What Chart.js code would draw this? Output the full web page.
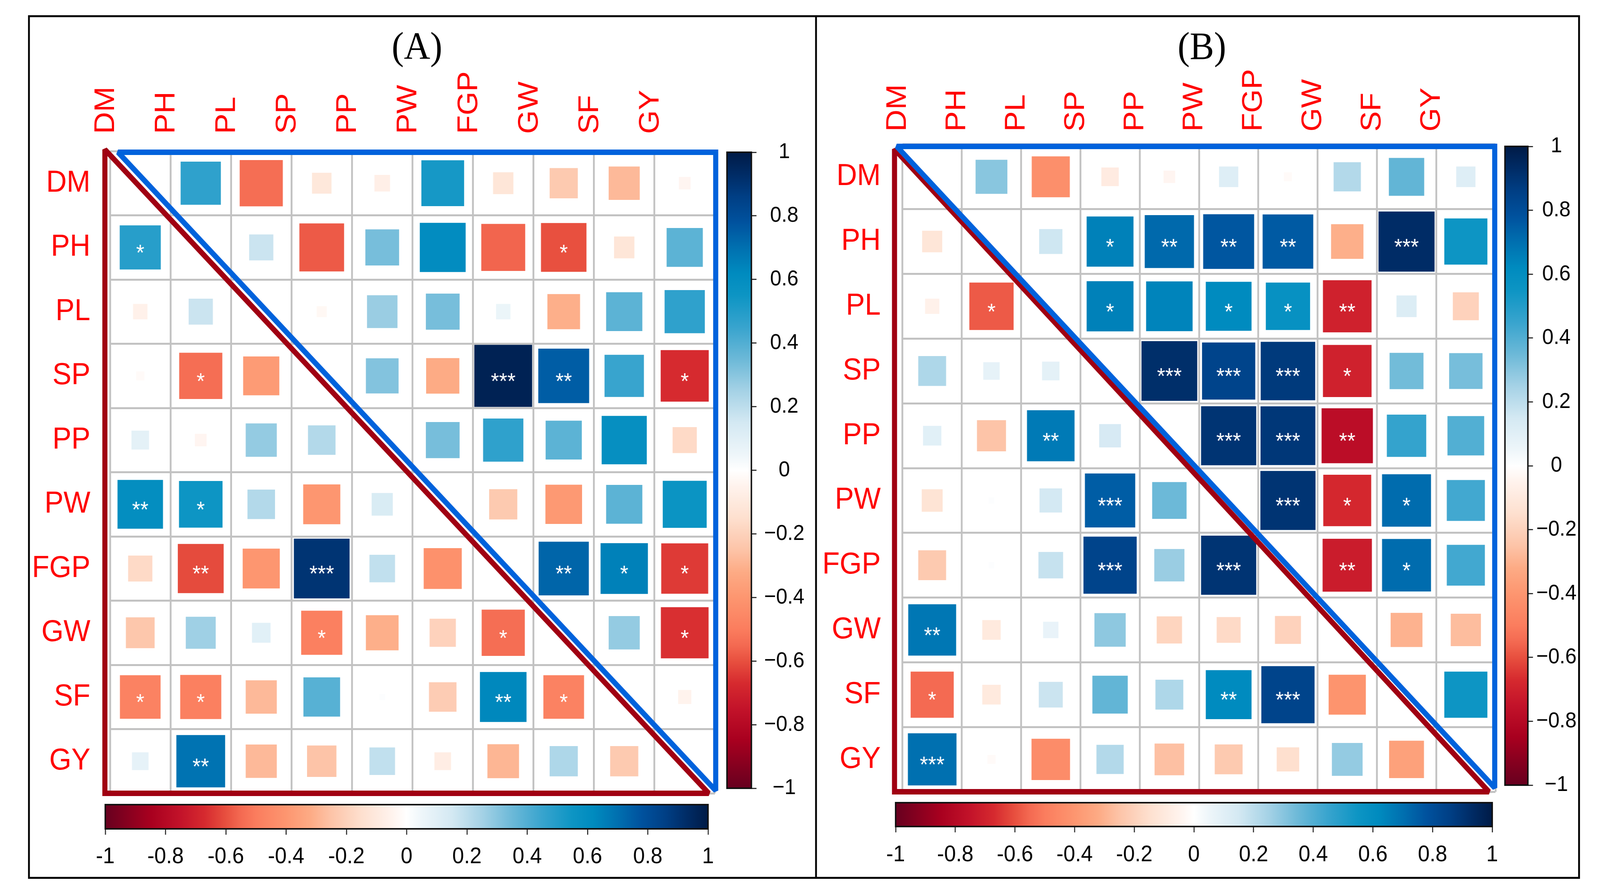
<!DOCTYPE html>
<html>
<head>
<meta charset="utf-8">
<script src="https://cdn.jsdelivr.net/npm/chart.js@4.4.1/dist/chart.umd.min.js"></script>
<style>
html, body { margin: 0; padding: 0; background: #fff; overflow: hidden; width: 100%; height: 100%; }
#stage { width: 4393px; height: 2295px; position: absolute; left: 0; top: 0; transform-origin: 0 0; background: #fff; }
canvas { position: absolute; }
.title { position: absolute; font-family: "Liberation Serif", "Times New Roman", serif; font-size: 100px; line-height: 1; transform: translate(-50%, -50%); color: #000; }
</style>
</head>
<body>
<div id="stage">
<div style="position:absolute;left:77px;top:39px;width:4261px;height:2212px;border:5px solid #000;box-sizing:border-box"></div>
<div style="position:absolute;left:2238px;top:39px;width:5px;height:2212px;background:#000"></div>
<div class="title" style="left:1145px;top:118px">(A)</div>
<div class="title" style="left:3300px;top:118px">(B)</div>
</div>
<script>
// traits, same order on both axes
var traits = ['DM', 'PH', 'PL', 'SP', 'PP', 'PW', 'FGP', 'GW', 'SF', 'GY'];

// panel A : lower and upper triangle hold the two correlation sets
var corrA = [
	[1, 0.47, -0.54, -0.11, -0.07, 0.53, -0.12, -0.23, -0.28, -0.04],
	[0.49, 1, 0.17, -0.58, 0.33, 0.61, -0.56, -0.60, -0.12, 0.38],
	[-0.06, 0.17, 1, -0.03, 0.27, 0.33, 0.06, -0.31, 0.38, 0.47],
	[-0.02, -0.54, -0.38, 1, 0.31, -0.32, 0.97, 0.75, 0.45, -0.67],
	[0.09, -0.04, 0.28, 0.22, 1, 0.33, 0.47, 0.38, 0.59, -0.17],
	[0.60, 0.55, 0.22, -0.40, 0.13, 1, -0.23, -0.39, 0.38, 0.56],
	[-0.17, -0.61, -0.40, 0.90, 0.19, -0.42, 1, 0.73, 0.65, -0.64],
	[-0.24, 0.26, 0.10, -0.49, -0.31, -0.20, -0.54, 1, 0.28, -0.66],
	[-0.48, -0.49, -0.28, 0.39, 0.01, -0.22, 0.63, -0.48, 1, -0.05],
	[0.08, 0.69, -0.28, -0.25, 0.19, -0.08, -0.29, 0.23, -0.23, 1]
];
var sigA = [
	['', '', '', '', '', '', '', '', '', ''],
	['*', '', '', '', '', '', '', '*', '', ''],
	['', '', '', '', '', '', '', '', '', ''],
	['', '*', '', '', '', '', '***', '**', '', '*'],
	['', '', '', '', '', '', '', '', '', ''],
	['**', '*', '', '', '', '', '', '', '', ''],
	['', '**', '', '***', '', '', '', '**', '*', '*'],
	['', '', '', '*', '', '', '*', '', '', '*'],
	['*', '*', '', '', '', '', '**', '*', '', ''],
	['', '**', '', '', '', '', '', '', '', '']
];

// panel B
var corrB = [
	[1, 0.30, -0.43, -0.09, -0.04, 0.11, -0.02, 0.22, 0.37, 0.11],
	[-0.12, 1, 0.16, 0.65, 0.72, 0.77, 0.76, -0.31, 0.93, 0.55],
	[-0.06, -0.58, 1, 0.65, 0.64, 0.62, 0.58, -0.70, 0.12, -0.20],
	[0.23, 0.08, 0.09, 1, 0.92, 0.84, 0.88, -0.70, 0.34, 0.33],
	[0.10, -0.25, 0.67, 0.14, 1, 0.90, 0.89, -0.78, 0.46, 0.40],
	[-0.13, 0.01, 0.15, 0.75, 0.35, 1, 0.90, -0.68, 0.71, 0.43],
	[-0.23, 0.01, 0.18, 0.84, 0.27, 0.90, 1, -0.72, 0.71, 0.43],
	[0.68, -0.10, 0.07, 0.29, -0.19, -0.17, -0.20, 1, -0.30, -0.27],
	[-0.55, -0.10, 0.17, 0.37, 0.23, 0.62, 0.84, -0.41, 1, 0.55],
	[0.70, -0.02, -0.44, 0.22, -0.26, -0.23, -0.15, 0.28, -0.36, 1]
];
var sigB = [
	['', '', '', '', '', '', '', '', '', ''],
	['', '', '', '*', '**', '**', '**', '', '***', ''],
	['', '*', '', '*', '', '*', '*', '**', '', ''],
	['', '', '', '', '***', '***', '***', '*', '', ''],
	['', '', '**', '', '', '***', '***', '**', '', ''],
	['', '', '', '***', '', '', '***', '*', '*', ''],
	['', '', '', '***', '', '***', '', '**', '*', ''],
	['**', '', '', '', '', '', '', '', '', ''],
	['*', '', '', '', '', '**', '***', '', '', ''],
	['***', '', '', '', '', '', '', '', '', '']
];

// colour bar ticks
var barTicks = [-1, -0.8, -0.6, -0.4, -0.2, 0, 0.2, 0.4, 0.6, 0.8, 1];

// colour ramp (value, colour)
var palette = [
	[-1, '#67001f'], [-0.85, '#a8001f'], [-0.75, '#c3132a'], [-0.67, '#d62a2f'],
	[-0.6, '#e8503f'], [-0.55, '#f46a52'], [-0.5, '#fb7d5e'], [-0.4, '#fd9670'],
	[-0.32, '#fdab85'], [-0.25, '#fdc4a8'], [-0.15, '#fee0cf'], [-0.05, '#fff3ed'],
	[0, '#ffffff'], [0.05, '#eef6fa'], [0.15, '#d4e9f3'], [0.25, '#a5d2e6'],
	[0.35, '#6cb9d8'], [0.45, '#38a4ce'], [0.55, '#0d95c4'], [0.62, '#008bbf'],
	[0.7, '#0070b0'], [0.78, '#00529e'], [0.86, '#003f85'], [0.93, '#002c66'],
	[1, '#001b47']
];

var SANS = '"Liberation Sans", Arial, sans-serif';
var stage = document.getElementById('stage');

// stretch the 4393 x 2295 drawing over the real window
var sx = window.innerWidth / 4393, sy = window.innerHeight / 2295;
stage.style.transform = 'scale(' + sx + ',' + sy + ')';

function hexRgb(h) {
	return [parseInt(h.substr(1, 2), 16), parseInt(h.substr(3, 2), 16), parseInt(h.substr(5, 2), 16)];
}

function colorFor(v) {
	if (v <= palette[0][0]) return palette[0][1];
	for (var i = 1; i < palette.length; i++) {
		if (v <= palette[i][0]) {
			var a = palette[i - 1], b = palette[i];
			var t = (v - a[0]) / (b[0] - a[0]);
			var ca = hexRgb(a[1]), cb = hexRgb(b[1]);
			var c = ca.map(function(x, k) { return Math.round(x + (cb[k] - x) * t); });
			return 'rgb(' + c.join(',') + ')';
		}
	}
	return palette[palette.length - 1][1];
}

function fmtTick(minus) {
	return function(v) {
		var r = Math.round(v * 10) / 10;
		return r < 0 ? minus + Math.abs(r) : String(r);
	};
}

function makeCanvas(b) {
	var c = document.createElement('canvas');
	c.width = b.w;
	c.height = b.h;
	c.style.left = b.x + 'px';
	c.style.top = b.y + 'px';
	stage.appendChild(c);
	return c;
}

function noPad(s) {
	s.paddingLeft = 0; s.paddingRight = 0; s.paddingTop = 0; s.paddingBottom = 0;
}

// triangles round the two halves of the matrix
var framePlugin = {
	id: 'frames',
	afterDraw: function(chart) {
		var f = chart.config.options.frames;
		var a = chart.chartArea, ctx = chart.ctx;
		ctx.save();
		ctx.lineWidth = 14;
		ctx.lineJoin = 'miter';
		ctx.miterLimit = 2;
		// red: left, bottom, diagonal
		ctx.strokeStyle = '#a00012';
		ctx.beginPath();
		ctx.moveTo(a.left + f.red.l, a.top + f.red.t);
		ctx.lineTo(a.left + f.red.l, a.bottom + f.red.b);
		ctx.lineTo(a.right + f.red.r, a.bottom + f.red.b);
		ctx.closePath();
		ctx.stroke();
		// blue: top, right, diagonal
		ctx.strokeStyle = '#0062dc';
		ctx.beginPath();
		ctx.moveTo(a.left + f.blue.l, a.top + f.blue.t);
		ctx.lineTo(a.right + f.blue.r, a.top + f.blue.t);
		ctx.lineTo(a.right + f.blue.r, a.bottom + f.blue.b);
		ctx.closePath();
		ctx.stroke();
		ctx.restore();
	}
};

// significance stars on top of the squares
var starPlugin = {
	id: 'stars',
	afterDatasetsDraw: function(chart) {
		var meta = chart.getDatasetMeta(0);
		var pts = chart.data.datasets[0].data;
		var ctx = chart.ctx, fs = 58;
		ctx.save();
		ctx.fillStyle = '#ffffff';
		ctx.font = fs + 'px ' + SANS;
		ctx.textAlign = 'center';
		ctx.textBaseline = 'alphabetic';
		meta.data.forEach(function(el, k) {
			if (pts[k].s) ctx.fillText(pts[k].s, el.x, el.y + fs * 0.57);
		});
		ctx.restore();
	}
};

function cellRadius(ctx) {
	var a = ctx.chart.chartArea;
	if (!a || !ctx.raw) return 0;
	var cell = Math.min(a.width, a.height) / traits.length;
	var side = Math.sqrt(Math.abs(ctx.raw.v)) * cell * 0.98;
	return side / Math.SQRT2;
}

function matrixChart(p) {
	var points = [];
	for (var i = 0; i < traits.length; i++) {
		for (var j = 0; j < traits.length; j++) {
			if (i !== j) points.push({ x: traits[j], y: traits[i], v: p.corr[i][j], s: p.sig[i][j] });
		}
	}
	var labelFont = { family: SANS, size: 78 };
	return new Chart(makeCanvas(p.box), {
		type: 'scatter',
		data: {
			datasets: [ {
				data: points,
				pointStyle: 'rect',
				radius: cellRadius,
				hoverRadius: cellRadius,
				backgroundColor: function(ctx) { return ctx.raw ? colorFor(ctx.raw.v) : '#fff'; },
				borderWidth: 0
			} ]
		},
		options: {
			responsive: false,
			animation: false,
			events: [],
			frames: p.frames,
			layout: { autoPadding: false, padding: { left: 0, top: 0, right: p.padR, bottom: p.padB } },
			plugins: { legend: { display: false }, tooltip: { enabled: false } },
			scales: {
				x: {
					type: 'category', labels: traits, position: 'top', offset: true,
					grid: { offset: true, color: '#c2c2c2', lineWidth: 5, drawTicks: false },
					border: { display: false },
					ticks: { color: '#ff0000', font: labelFont, minRotation: 90, maxRotation: 90, autoSkip: false, padding: p.colPad },
					afterFit: function(s) { s.height = p.xAxisH; noPad(s); }
				},
				y: {
					type: 'category', labels: traits, position: 'left', offset: true,
					grid: { offset: true, color: '#c2c2c2', lineWidth: 5, drawTicks: false },
					border: { display: false },
					ticks: { color: '#ff0000', font: labelFont, autoSkip: false, padding: p.rowPad },
					afterFit: function(s) { s.width = p.yAxisW; noPad(s); }
				}
			}
		},
		plugins: [ starPlugin, framePlugin ]
	});
}

var gradientPlugin = {
	id: 'gradient',
	beforeDatasetsDraw: function(chart) {
		var a = chart.chartArea, ctx = chart.ctx;
		var vert = chart.config.options.vertical;
		var g = vert ? ctx.createLinearGradient(0, a.bottom, 0, a.top) : ctx.createLinearGradient(a.left, 0, a.right, 0);
		palette.forEach(function(s) { g.addColorStop((s[0] + 1) / 2, s[1]); });
		ctx.save();
		ctx.fillStyle = g;
		ctx.fillRect(a.left, a.top, a.width, a.height);
		ctx.lineWidth = 4;
		ctx.strokeStyle = '#111';
		ctx.strokeRect(a.left, a.top, a.width, a.height);
		ctx.restore();
	}
};

function colorBar(b, bar, vertical, labelPad) {
	var cb = makeCanvas(b);
	var axis = {
		type: 'linear', min: -1, max: 1,
		position: vertical ? 'right' : 'bottom',
		afterBuildTicks: function(s) { s.ticks = barTicks.map(function(v) { return { value: v }; }); },
		grid: { drawOnChartArea: false, drawTicks: true, tickLength: vertical ? 14 : 15, color: '#333', lineWidth: 3 },
		border: { display: false },
		ticks: {
			color: '#000', autoSkip: false, padding: labelPad,
			font: { family: SANS, size: vertical ? 56 : 58 },
			crossAlign: vertical ? 'center' : 'near',
			callback: fmtTick(vertical ? '\u2212' : '-')
		},
		afterFit: function(s) {
			if (vertical) s.width = (b.x + b.w) - bar.x1; else s.height = (b.y + b.h) - bar.y1;
			noPad(s);
		}
	};
	var pad = vertical ?
		{ left: bar.x0 - b.x, top: bar.y0 - b.y, right: 0, bottom: (b.y + b.h) - bar.y1 } :
		{ left: bar.x0 - b.x, top: bar.y0 - b.y, right: (b.x + b.w) - bar.x1, bottom: 0 };
	var scales = vertical ? { x: { display: false }, y: axis } : { y: { display: false }, x: axis };
	return new Chart(cb, {
		type: 'scatter',
		data: { datasets: [] },
		options: {
			responsive: false, animation: false, events: [],
			vertical: vertical,
			layout: { autoPadding: false, padding: pad },
			plugins: { legend: { display: false }, tooltip: { enabled: false } },
			scales: scales
		},
		plugins: [ gradientPlugin ]
	});
}

matrixChart({
	corr: corrA, sig: sigA,
	box: { x: 90, y: 150, w: 1887, h: 1896 },
	yAxisW: 212, xAxisH: 237, padR: 14, padB: 14, rowPad: 54, colPad: 44,
	frames: { blue: { l: 22, t: 3, r: 2, b: -7 }, red: { l: -14, t: -4, r: -17, b: 0 } }
});
matrixChart({
	corr: corrB, sig: sigB,
	box: { x: 2260, y: 150, w: 1860, h: 1892 },
	yAxisW: 218, xAxisH: 220, padR: 14, padB: 14, rowPad: 60, colPad: 33,
	frames: { blue: { l: -16, t: 5, r: -2, b: -10 }, red: { l: -22, t: 12, r: -18, b: 0 } }
});

colorBar({ x: 1990, y: 340, w: 240, h: 1730 }, { x0: 1996, y0: 390, x1: 2063, y1: 2019 }, true, 21);
colorBar({ x: 230, y: 2045, w: 1780, h: 198 }, { x0: 289, y0: 2061, x1: 1944, y1: 2123 }, false, 22);
colorBar({ x: 4126, y: 325, w: 205, h: 1740 }, { x0: 4132, y0: 375, x1: 4195, y1: 2011 }, true, 9);
colorBar({ x: 2400, y: 2040, w: 1760, h: 203 }, { x0: 2459, y0: 2056, x1: 4097, y1: 2117 }, false, 23);
</script>
</body>
</html>
